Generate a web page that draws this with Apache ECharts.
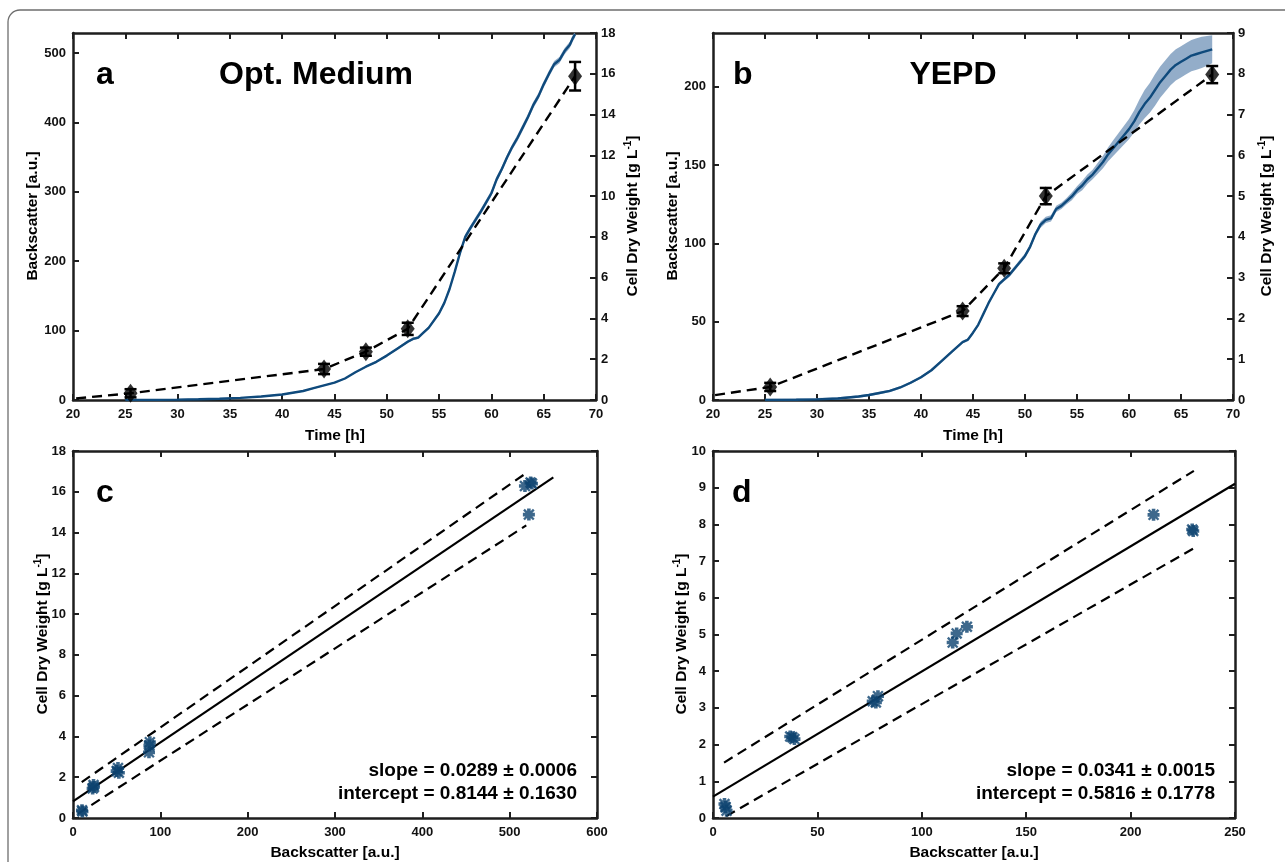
<!DOCTYPE html>
<html>
<head>
<meta charset="utf-8">
<title>Backscatter and cell dry weight</title>
<script src="https://cdn.jsdelivr.net/npm/echarts@6/dist/echarts.min.js"></script>
<style>
  html, body { margin: 0; padding: 0; background: #fff; }
  #chart { width: 1285px; height: 862px; }
</style>
</head>
<body>
<div id="chart"></div>
<script>
// ---------- Panel a: optimised medium, backscatter over time ----------
const timeA = [25, 28, 30, 32, 34, 36, 38, 40, 42, 43, 44, 45, 46, 47, 48, 49, 50, 51, 52,
  52.5, 53, 53.5, 54, 55, 55.5, 56, 56.5, 57, 57.5, 58, 58.5, 59, 59.5, 60,
  60.5, 61, 61.5, 62, 62.5, 63, 63.5, 64, 64.5, 65, 65.5, 66, 66.5, 67, 67.5, 67.8, 68];
const backscatterA = [0, 0.2, 0.5, 1, 1.8, 3, 5, 8, 13, 17, 21, 25, 31, 40, 48, 55, 64, 74, 84,
  88, 90, 97, 104, 125, 140, 160, 185, 212, 235, 248, 260, 272, 285, 298,
  318, 333, 350, 365, 378, 393, 408, 425, 438, 455, 470, 484, 490, 503, 512, 522, 527];
const spreadA = [1, 1, 1, 1, 1, 1, 1, 1, 1, 1, 1, 1, 1, 1, 1, 1.5, 1.5, 1.5, 2,
  2, 2, 2, 2, 2.5, 3, 3, 3.5, 4, 4, 4, 4, 4, 4, 4,
  4, 4, 4, 4, 4.5, 4.5, 4.5, 4.5, 4.5, 4.5, 4.5, 4.5, 4.5, 4.5, 4.5, 4.5, 4.5];
// cell dry weight (right axis) with its dashed connecting line
const cdwLineA = [[20.3, 0.08], [25.5, 0.33], [44, 1.52], [48, 2.37], [52, 3.49], [68, 15.88]];
const cdwTimeA = [25.5, 44, 48, 52, 68];
const cdwA = [0.33, 1.52, 2.37, 3.49, 15.88];
const cdwErrA = [0.2, 0.25, 0.2, 0.3, 0.7];

// ---------- Panel b: YEPD, backscatter over time ----------
const timeB = [25, 28, 30, 32, 34, 35, 36, 37, 38, 39, 40, 41, 42, 43, 44,
  44.5, 45, 45.5, 46, 46.5, 47, 47.5, 48, 48.5, 49,
  49.5, 50, 50.5, 51, 51.5, 52, 52.5, 53, 53.5, 54,
  54.5, 55, 55.5, 56, 56.5, 57, 57.5, 58, 58.5, 59,
  59.5, 60, 60.5, 61, 61.5, 62, 62.5, 63, 63.5, 64,
  64.5, 65, 65.5, 66, 66.5, 67, 67.5, 68];
const backscatterB = [0, 0.2, 0.4, 1, 2.2, 3.2, 4.5, 5.8, 8, 11, 14.5, 19, 25, 31, 37,
  38.5, 43, 48, 55, 62, 68, 74, 77, 80, 84,
  88, 92, 98, 106, 112, 115, 116, 122, 124, 127,
  130, 134, 137, 141, 144, 148, 152, 157, 161, 165,
  169, 173, 178, 184, 189, 193, 198, 203, 207, 211,
  214, 216, 218, 220, 221, 222, 223, 224];
const spreadB = [0.8, 0.8, 0.8, 0.8, 0.8, 0.8, 0.8, 0.8, 0.8, 0.8, 0.8, 0.8, 0.8, 0.8, 0.8,
  1, 1, 1, 1, 1, 1, 1.2, 1.2, 1.5, 1.5,
  1.5, 1.5, 1.5, 1.5, 2, 2, 2, 2, 2, 2,
  2.5, 2.5, 3, 3, 3, 3.5, 4, 4.5, 5, 5.5,
  6, 6.5, 7, 8, 9, 9.5, 10, 10, 10, 10,
  10, 10, 10, 10, 10, 10, 9.5, 9];
const cdwLineB = [[20.2, 0.12], [25.5, 0.32], [44, 2.18], [48, 3.23], [52, 5.0], [68, 7.98]];
const cdwTimeB = [25.5, 44, 48, 52, 68];
const cdwB = [0.32, 2.18, 3.23, 5.0, 7.98];
const cdwErrB = [0.1, 0.12, 0.12, 0.2, 0.21];

// ---------- Panel c: calibration, optimised medium ----------
const calBsC = [10.3, 10.8, 22.5, 23.5, 24, 50, 51.5, 52.5, 87, 87.5, 88, 517.5, 524, 525.5, 522];
const calCdwC = [0.38, 0.32, 1.45, 1.62, 1.52, 2.3, 2.45, 2.22, 3.22, 3.55, 3.72, 16.28, 16.45, 16.4, 14.88];
const slopeC = 0.0289, slopeErrC = 0.0006, interceptC = 0.8144, interceptErrC = 0.1630;
const fitRangeC = [0, 550];
const upperBandC = [[10, 1.76], [519, 16.92]];
const lowerBandC = [[5.6, 0.21], [519, 14.35]];

// ---------- Panel d: calibration, YEPD ----------
const calBsD = [5.5, 6, 6.5, 37, 38, 39, 76.5, 78, 79, 114.8, 116.7, 121.6, 211, 229.5, 230];
const calCdwD = [0.38, 0.3, 0.2, 2.22, 2.2, 2.15, 3.18, 3.15, 3.32, 4.78, 5.03, 5.21, 8.26, 7.86, 7.82];
const slopeD = 0.0341, slopeErrD = 0.0015, interceptD = 0.5816, interceptErrD = 0.1778;
const fitRangeD = [0, 250];
const upperBandD = [[5.3, 1.51], [230.3, 9.46]];
const lowerBandD = [[6.3, 0.05], [230, 7.34]];

// ---------- styling ----------
const FONT = '"Liberation Sans", Arial, Helvetica, sans-serif';
const AXIS = '#1e1e1e';
const BLUE = '#0f4a7c';
const DOT = '#0c426f';
const BAND = 'rgba(120, 152, 187, 0.8)';
const DASH = [10, 6];

// 8-spoke asterisk marker with thick spokes
const ASTERISK = 'path://M0,3.5 L10,3.5 L10,6.5 L0,6.5 Z M3.5,0 L6.5,0 L6.5,10 L3.5,10 Z ' +
  'M1.6,0.2 L9.8,8.4 L8.4,9.8 L0.2,1.6 Z M8.4,0.2 L9.8,1.6 L1.6,9.8 L0.2,8.4 Z';

const grids = [
  { left: 73, top: 33, width: 523, height: 367 },
  { left: 713, top: 33, width: 520, height: 367 },
  { left: 73, top: 451, width: 524, height: 367 },
  { left: 713, top: 451, width: 522, height: 367 }
];

function labelStyle(show) {
  return { show: show, fontFamily: FONT, fontWeight: 'bold', fontSize: 13, color: '#111', margin: 7, showMaxLabel: show ? null : false };
}
function axisCommon(showLabels) {
  return {
    axisLine: { show: true, onZero: false, lineStyle: { color: AXIS, width: 2.5 } },
    axisTick: { show: true, inside: true, length: 6, lineStyle: { color: AXIS, width: 2 } },
    splitLine: { show: false },
    axisLabel: labelStyle(showLabels)
  };
}
function xPair(gi, min, max, interval) {
  return [
    Object.assign({ type: 'value', gridIndex: gi, position: 'bottom', min, max, interval }, axisCommon(true)),
    Object.assign({ type: 'value', gridIndex: gi, position: 'top', min, max, interval }, axisCommon(false))
  ];
}
function yAxis(gi, pos, min, max, interval, showLabels, hideMax) {
  const ax = Object.assign({ type: 'value', gridIndex: gi, position: pos, min, max, interval }, axisCommon(showLabels));
  ax.axisLabel.margin = pos === 'right' ? 5 : 7;
  if (hideMax) ax.axisLabel.showMaxLabel = false;
  return ax;
}

const xAxes = [].concat(
  xPair(0, 20, 70, 5), xPair(1, 20, 70, 5),
  xPair(2, 0, 600, 100), xPair(3, 0, 250, 50)
);
xAxes[0].axisLabel.margin = 8; xAxes[2].axisLabel.margin = 8;
xAxes[4].axisLabel.margin = 8; xAxes[6].axisLabel.margin = 8;

const yAxes = [
  yAxis(0, 'left', 0, 529, 100, true, true),
  yAxis(0, 'right', 0, 18, 2, true, false),
  yAxis(1, 'left', 0, 234.4, 50, true, true),
  yAxis(1, 'right', 0, 9, 1, true, false),
  yAxis(2, 'left', 0, 18, 2, true, false),
  yAxis(2, 'right', 0, 18, 2, false, false),
  yAxis(3, 'left', 0, 10, 1, true, false),
  yAxis(3, 'right', 0, 10, 1, false, false)
];

const zip = (a, b) => a.map((v, i) => [v, b[i]]);

function bandSeries(xi, yi, ts, mid, half) {
  return {
    type: 'custom', xAxisIndex: xi, yAxisIndex: yi, clip: true, silent: true, z: 1,
    data: [[ts[0], mid[0]]], encode: { x: 0, y: 1 },
    renderItem: function (params, api) {
      const up = [], lo = [];
      ts.forEach((t, i) => {
        up.push(api.coord([t, mid[i] + half[i]]));
        lo.push(api.coord([t, Math.max(0, mid[i] - half[i])]));
      });
      return { type: 'polygon', shape: { points: up.concat(lo.reverse()) }, style: { fill: BAND } };
    }
  };
}
function errorSeries(xi, yi, ts, vals, errs) {
  return {
    type: 'custom', xAxisIndex: xi, yAxisIndex: yi, silent: true, z: 5,
    data: ts.map((t, i) => [t, vals[i], errs[i]]), encode: { x: 0, y: 1 },
    renderItem: function (params, api) {
      const x = api.value(0), y = api.value(1), e = api.value(2);
      const a = api.coord([x, y + e]), b = api.coord([x, y - e]);
      const w = 6, st = { stroke: '#000', lineWidth: 2.5 };
      return {
        type: 'group', children: [
          { type: 'line', shape: { x1: a[0], y1: a[1], x2: b[0], y2: b[1] }, style: st },
          { type: 'line', shape: { x1: a[0] - w, y1: a[1], x2: a[0] + w, y2: a[1] }, style: st },
          { type: 'line', shape: { x1: b[0] - w, y1: b[1], x2: b[0] + w, y2: b[1] }, style: st }
        ]
      };
    }
  };
}
function lineSeries(xi, yi, data, color, width, dashed, z) {
  return {
    type: 'line', xAxisIndex: xi, yAxisIndex: yi, data: data, showSymbol: false, symbol: 'none',
    silent: true, clip: true, z: z || 3,
    lineStyle: { color: color, width: width, type: dashed ? DASH : 'solid' }
  };
}
function diamondSeries(xi, yi, ts, vals) {
  return {
    type: 'scatter', xAxisIndex: xi, yAxisIndex: yi, data: zip(ts, vals), silent: true, z: 6,
    symbol: 'diamond', symbolSize: [14, 19], itemStyle: { color: '#000' }
  };
}
function fitLine(range, slope, intercept) {
  return range.map(x => [x, intercept + slope * x]);
}
function asteriskSeries(xi, yi, xs, ys) {
  return {
    type: 'scatter', xAxisIndex: xi, yAxisIndex: yi, data: zip(xs, ys), silent: true, z: 6,
    symbol: ASTERISK, symbolSize: 12, itemStyle: { color: DOT }
  };
}

const series = [
  // panel a
  bandSeries(0, 0, timeA, backscatterA, spreadA),
  lineSeries(0, 0, zip(timeA, backscatterA), BLUE, 2.4, false, 2),
  lineSeries(0, 1, cdwLineA, '#000', 2.4, true, 4),
  errorSeries(0, 1, cdwTimeA, cdwA, cdwErrA),
  diamondSeries(0, 1, cdwTimeA, cdwA),
  // panel b
  bandSeries(2, 2, timeB, backscatterB, spreadB),
  lineSeries(2, 2, zip(timeB, backscatterB), BLUE, 2.4, false, 2),
  lineSeries(2, 3, cdwLineB, '#000', 2.4, true, 4),
  errorSeries(2, 3, cdwTimeB, cdwB, cdwErrB),
  diamondSeries(2, 3, cdwTimeB, cdwB),
  // panel c
  lineSeries(4, 4, fitLine(fitRangeC, slopeC, interceptC), '#000', 2.2, false, 3),
  lineSeries(4, 4, upperBandC, '#000', 2.2, true, 3),
  lineSeries(4, 4, lowerBandC, '#000', 2.2, true, 3),
  asteriskSeries(4, 4, calBsC, calCdwC),
  // panel d
  lineSeries(6, 6, fitLine(fitRangeD, slopeD, interceptD), '#000', 2.2, false, 3),
  lineSeries(6, 6, upperBandD, '#000', 2.2, true, 3),
  lineSeries(6, 6, lowerBandD, '#000', 2.2, true, 3),
  asteriskSeries(6, 6, calBsD, calCdwD)
];

// ---------- text ----------
function txt(x, y, text, size, opts) {
  opts = opts || {};
  return {
    type: 'text', x: x, y: y, rotation: opts.rot || 0, z: 20, silent: true,
    style: {
      text: text, fill: '#000', fontFamily: FONT, fontWeight: 'bold', fontSize: size,
      align: opts.align || 'center', verticalAlign: 'middle'
    }
  };
}
function cdwTitle(x, y) {
  return {
    type: 'text', x: x, y: y, rotation: Math.PI / 2, z: 20, silent: true,
    style: {
      text: '{a|Cell Dry Weight [g L}{s|-1}{a|]}', align: 'center', verticalAlign: 'middle',
      rich: {
        a: { fontFamily: FONT, fontWeight: 'bold', fontSize: 15.5, fill: '#000', lineHeight: 18, verticalAlign: 'bottom' },
        s: { fontFamily: FONT, fontWeight: 'bold', fontSize: 10, fill: '#000', lineHeight: 11, verticalAlign: 'top' }
      }
    }
  };
}
const fmt4 = v => v.toFixed(4);

const graphic = [
  { type: 'rect', shape: { x: 8, y: 10, width: 1400, height: 1000, r: 12 }, silent: true, z: 0,
    style: { fill: 'none', stroke: '#6e6e6e', lineWidth: 1.3 } },
  txt(96, 75, 'a', 32, { align: 'left' }),
  txt(316, 75, 'Opt. Medium', 32),
  txt(733, 75, 'b', 32, { align: 'left' }),
  txt(953, 75, 'YEPD', 32),
  txt(96, 493, 'c', 32, { align: 'left' }),
  txt(732, 493, 'd', 32, { align: 'left' }),
  txt(33, 216, 'Backscatter [a.u.]', 15.5, { rot: Math.PI / 2 }),
  cdwTitle(632, 216),
  txt(673, 216, 'Backscatter [a.u.]', 15.5, { rot: Math.PI / 2 }),
  cdwTitle(1266, 216),
  txt(335, 436, 'Time [h]', 15.5),
  txt(973, 436, 'Time [h]', 15.5),
  cdwTitle(42, 634),
  cdwTitle(681, 634),
  txt(335, 853, 'Backscatter [a.u.]', 15.5),
  txt(974, 853, 'Backscatter [a.u.]', 15.5),
  txt(577, 771, 'slope = ' + fmt4(slopeC) + ' \u00b1 ' + fmt4(slopeErrC), 19, { align: 'right' }),
  txt(577, 794, 'intercept = ' + fmt4(interceptC) + ' \u00b1 ' + fmt4(interceptErrC), 19, { align: 'right' }),
  txt(1215, 771, 'slope = ' + fmt4(slopeD) + ' \u00b1 ' + fmt4(slopeErrD), 19, { align: 'right' }),
  txt(1215, 794, 'intercept = ' + fmt4(interceptD) + ' \u00b1 ' + fmt4(interceptErrD), 19, { align: 'right' })
];

const chart = echarts.init(document.getElementById('chart'), null, { renderer: 'canvas' });
chart.setOption({
  animation: false,
  backgroundColor: '#fff',
  grid: grids,
  xAxis: xAxes,
  yAxis: yAxes,
  series: series,
  graphic: graphic
});
</script>
</body>
</html>
